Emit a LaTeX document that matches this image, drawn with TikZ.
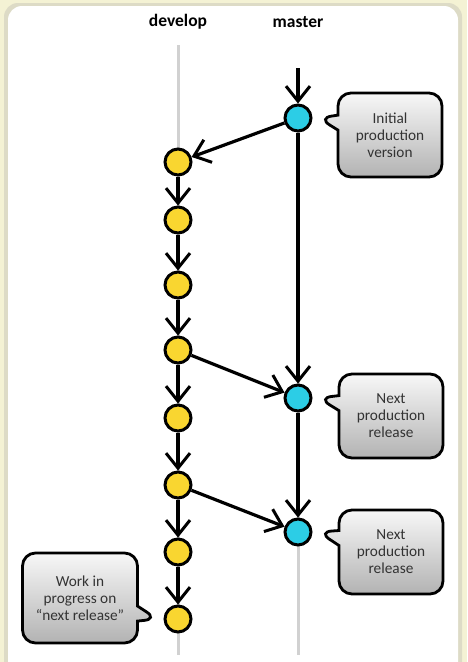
\documentclass[tikz,border=0pt]{standalone}
\usepackage{fontspec}
\setmainfont{Carlito}
\usetikzlibrary{arrows.meta,shapes.callouts}
\definecolor{devyellow}{HTML}{F9D630}
\definecolor{relcyan}{HTML}{2CCDE6}
\definecolor{paper}{HTML}{F4F2D4}
\definecolor{rim}{HTML}{DDDBC6}
\definecolor{notetext}{HTML}{333333}

\begin{document}
\begin{tikzpicture}[x=1pt,y=-1pt,
  commit/.style={circle,draw=black,line width=3pt,minimum size=26pt,inner sep=0pt},
  dev/.style={commit,fill=devyellow},
  rel/.style={commit,fill=relcyan},
  flow/.style={line width=3.2pt,-{Straight Barb[length=15pt,width=24pt,line width=3pt]}},
  branch/.style={line width=3pt,draw=black!18},
  note/.style={rectangle callout,draw=black,line width=2.8pt,rounded corners=13pt,
    top color=black!3,bottom color=black!30,minimum width=104pt,minimum height=84pt,
    align=center,text=notetext,font=\fontsize{15.3}{17}\selectfont,callout pointer width=15pt},
  heading/.style={font=\bfseries\fontsize{17.5}{20}\selectfont}]
\useasboundingbox (0,0) rectangle (467,662);
\clip (0,0) rectangle (467,662);
% frame
\fill[paper] (0,0) rectangle (467,662);
\fill[rim,rounded corners=14pt] (4,3) rectangle (462,700);
\fill[white,rounded corners=14pt] (8,6) rectangle (458,700);
% branch names
\node[heading] (devlabel) at (178,22) {develop};
\node[heading] (mastlabel) at (298,22) {master};
% branch lines
\coordinate (devtop) at (178,45);
\coordinate (devend) at (178,655);
\coordinate (mastmid) at (298,118);
\coordinate (mastend) at (298,655);
\coordinate (maststart) at (298,68);
\draw[branch] (devtop) -- (devend);
\draw[branch] (mastmid) -- (mastend);
% commits
\node[rel] (m1) at (298,118) {};
\node[rel] (m2) at (298,398) {};
\node[rel] (m3) at (298,532) {};
\node[dev] (d1) at (178,162) {};
\node[dev] (d2) at (178,220) {};
\node[dev] (d3) at (178,285) {};
\node[dev] (d4) at (178,350) {};
\node[dev] (d5) at (178,418) {};
\node[dev] (d6) at (178,485) {};
\node[dev] (d7) at (178,552) {};
\node[dev] (d8) at (178,619) {};
% arrows
\draw[flow] (maststart) -- (m1);
\draw[flow] (m1) -- (m2);
\draw[flow] (m2) -- (m3);
\draw[flow] (m1) -- (d1);
\draw[flow] (d1) -- (d2);
\draw[flow] (d2) -- (d3);
\draw[flow] (d3) -- (d4);
\draw[flow] (d4) -- (d5);
\draw[flow] (d5) -- (d6);
\draw[flow] (d6) -- (d7);
\draw[flow] (d7) -- (d8);
\draw[flow] (d4) -- (m2);
\draw[flow] (d6) -- (m3);
% notes
\node[note,callout absolute pointer={([xshift=6pt]m1.east)}] (n1) at (390,135) {Initial\\production\\version};
\node[note,callout absolute pointer={([xshift=6pt]m2.east)}] (n2) at (391,416) {Next\\production\\release};
\node[note,callout absolute pointer={([xshift=6pt]m3.east)}] (n3) at (391,552) {Next\\production\\release};
\node[note,minimum width=115pt,minimum height=90pt,callout absolute pointer={([xshift=-6pt]d8.west)}] (n4) at (80,598) {Work in\\progress on\\“next release”};
\end{tikzpicture}
\end{document}
